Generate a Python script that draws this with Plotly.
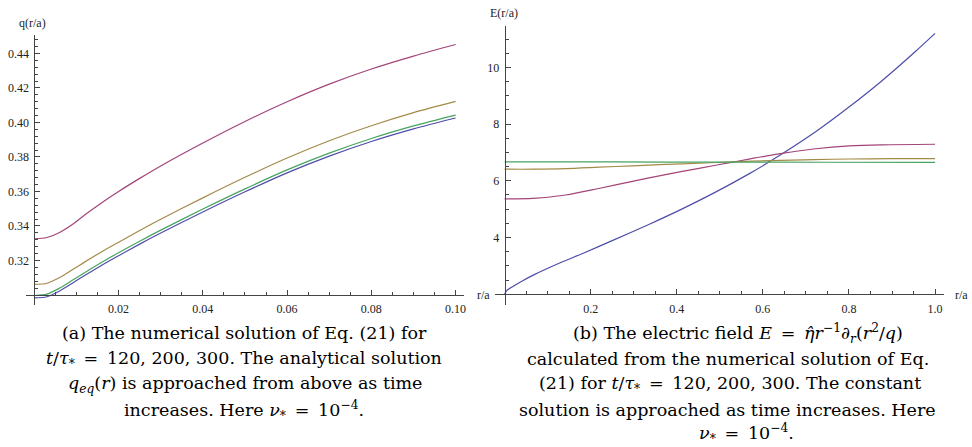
import plotly.graph_objects as go

W, H = 972, 447

# ---------------- data ----------------
# left panel: q(r/a) for r/a in [0, 0.1]
r_left = [0.0, 0.003, 0.006, 0.009, 0.012, 0.016, 0.02, 0.025, 0.03,
          0.04, 0.05, 0.06, 0.07, 0.08, 0.09, 0.1]
q_blue = [0.2983, 0.2990, 0.3023, 0.3068, 0.3114, 0.3173, 0.3228, 0.3295, 0.3359,
          0.3481, 0.3598, 0.3708, 0.3805, 0.3890, 0.3963, 0.4026]
q_magenta = [0.3325, 0.3333, 0.3362, 0.3408, 0.3465, 0.3535, 0.3600, 0.3676, 0.3748,
             0.3881, 0.4006, 0.4120, 0.4222, 0.4310, 0.4385, 0.4452]
q_olive = [0.3061, 0.3068, 0.3101, 0.3146, 0.3192, 0.3251, 0.3306, 0.3374, 0.3439,
           0.3563, 0.3682, 0.3794, 0.3894, 0.3981, 0.4057, 0.4122]
q_green = [0.2997, 0.3005, 0.3040, 0.3085, 0.3131, 0.3190, 0.3245, 0.3312, 0.3376,
           0.3498, 0.3615, 0.3725, 0.3822, 0.3907, 0.3980, 0.4043]

# right panel: E(r/a) for r/a in [0, 1]
r_E_blue = [0.0, 0.005, 0.02, 0.04, 0.07, 0.12, 0.18, 0.25, 0.335, 0.4128, 0.49,
            0.5677, 0.6141, 0.7226, 0.8, 0.8774, 0.955, 1.0]
E_blue = [2.0, 2.13, 2.28, 2.46, 2.70, 3.05, 3.43, 3.89, 4.46, 5.01, 5.60,
          6.245, 6.66, 7.73, 8.60, 9.54, 10.57, 11.2]
r_E_magenta = [0.0, 0.0655, 0.142, 0.219, 0.297, 0.374, 0.4516, 0.53, 0.645,
               0.7226, 0.8, 0.877, 1.0]
E_magenta = [5.36, 5.38, 5.50, 5.73, 5.98, 6.22, 6.44, 6.66, 6.97,
             7.13, 7.23, 7.27, 7.29]
r_E_olive = [0.0, 0.0655, 0.142, 0.219, 0.297, 0.374, 0.4516, 0.53, 0.614,
             0.72, 0.8, 0.9, 1.0]
E_olive = [6.41, 6.41, 6.43, 6.48, 6.53, 6.58, 6.62, 6.67, 6.71,
           6.75, 6.77, 6.78, 6.78]
r_E_green = [0.0, 0.25, 0.5, 0.75, 1.0]
E_green = [6.67, 6.665, 6.66, 6.655, 6.65]

# ticks
xl_major = [0.02, 0.04, 0.06, 0.08, 0.10]
xl_major_text = ["0.02", "0.04", "0.06", "0.08", "0.10"]
yl_major = [0.32, 0.34, 0.36, 0.38, 0.40, 0.42, 0.44]
yl_major_text = ["0.32", "0.34", "0.36", "0.38", "0.40", "0.42", "0.44"]
xr_major = [0.2, 0.4, 0.6, 0.8, 1.0]
xr_major_text = ["0.2", "0.4", "0.6", "0.8", "1.0"]
yr_major = [4, 6, 8, 10]
yr_major_text = ["4", "6", "8", "10"]

xl_minor = [round(0.005 * i, 4) for i in range(1, 21) if i % 4 != 0]
yl_minor = [round(0.300 + 0.004 * i, 4) for i in range(1, 38) if i % 5 != 0]
xr_minor = [round(0.05 * i, 3) for i in range(1, 21) if i % 4 != 0]
yr_minor = [2 + 0.5 * i for i in range(1, 19) if i % 4 != 0]

# ---------------- layout geometry (pixels) ----------------
XL_RANGE = [-0.002, 0.102]
YL_RANGE = [0.2942, 0.4507]
XR_RANGE = [-0.0223, 1.0209]
YR_RANGE = [1.62, 11.46]
left_px = (26, 465)
right_px = (496, 946)
bottom_px = 305
top_left_px = 35
top_right_px = 26

def fx(px):
    return px / W

def fy(py):
    return 1 - py / H

xl_dom = [fx(left_px[0]), fx(left_px[1])]
xr_dom = [fx(right_px[0]), fx(right_px[1])]
yl_dom = [fy(bottom_px), fy(top_left_px)]
yr_dom = [fy(bottom_px), fy(top_right_px)]

def frac(v, rng):
    return (v - rng[0]) / (rng[1] - rng[0])

pos_yl = xl_dom[0] + frac(0.0, XL_RANGE) * (xl_dom[1] - xl_dom[0])
pos_xl = yl_dom[0] + frac(0.30, YL_RANGE) * (yl_dom[1] - yl_dom[0])
pos_yr = xr_dom[0] + frac(0.0, XR_RANGE) * (xr_dom[1] - xr_dom[0])
pos_xr = yr_dom[0] + frac(2.0, YR_RANGE) * (yr_dom[1] - yr_dom[0])

BLUE = "#4d4dab"
MAGENTA = "#a34479"
OLIVE = "#a38a47"
GREEN = "#47a360"
AXC = "#444444"
TFONT = "Liberation Serif, Times New Roman, serif"
CFONT = "DejaVu Serif, serif"

fig = go.Figure()
for ys, c in [(q_blue, BLUE), (q_magenta, MAGENTA), (q_olive, OLIVE), (q_green, GREEN)]:
    fig.add_trace(go.Scatter(x=r_left, y=ys, mode="lines",
                             line=dict(color=c, width=1.2, shape="spline", smoothing=0.8),
                             xaxis="x", yaxis="y", showlegend=False, hoverinfo="skip"))
for xs, ys, c in [(r_E_blue, E_blue, BLUE), (r_E_magenta, E_magenta, MAGENTA),
                  (r_E_olive, E_olive, OLIVE), (r_E_green, E_green, GREEN)]:
    fig.add_trace(go.Scatter(x=xs, y=ys, mode="lines",
                             line=dict(color=c, width=1.2, shape="spline", smoothing=0.8),
                             xaxis="x2", yaxis="y2", showlegend=False, hoverinfo="skip"))

def axis(dom, rng, pos, tv, tt, minor_vals, standoff):
    return dict(domain=dom, range=rng, anchor="free", position=pos,
                showline=True, linecolor=AXC, linewidth=1,
                ticks="inside", ticklen=5, tickwidth=1, tickcolor=AXC,
                tickmode="array", tickvals=tv, ticktext=tt,
                showgrid=False, zeroline=False, ticklabelstandoff=standoff,
                tickfont=dict(family=TFONT, size=12, color="#222222"),
                minor=dict(tickmode="array", tickvals=minor_vals, ticks="inside",
                           ticklen=3, tickwidth=1, tickcolor=AXC, showgrid=False))

annotations = []
def label(text, x, y, xanchor="center", size=12):
    annotations.append(dict(text=text, x=fx(x), y=fy(y), xref="paper", yref="paper",
                            xanchor=xanchor, yanchor="middle", showarrow=False,
                            font=dict(family=TFONT, size=size, color="#222222")))

label("q(r/a)", 33, 23)
label("r/a", 476, 295, xanchor="left")
label("E(r/a)", 505, 13)
label("r/a", 955, 295, xanchor="left")

CAP = 17.5
EQ = "\u2002=\u2002"
cap_left = [
    ("(a) The numerical solution of Eq. (21) for", 245, 333),
    ("<i>t</i>/<i>τ</i><sub>*</sub>" + EQ + "120, 200, 300. The analytical solution", 245, 359),
    ("<i>q<sub>eq</sub></i>(<i>r</i>) is approached from above as time", 246, 384),
    ("increases. Here <i>ν</i><sub>*</sub>" + EQ + "10<sup>−4</sup>.", 245, 410),
]
cap_right = [
    ("(b) The electric field <i>E</i>" + EQ + "<i>η̂r</i><sup>−1</sup>∂<sub><i>r</i></sub>(<i>r</i><sup>2</sup>/<i>q</i>)", 740, 333),
    ("calculated from the numerical solution of Eq.", 729, 359),
    ("(21) for <i>t</i>/<i>τ</i><sub>*</sub>" + EQ + "120, 200, 300. The constant", 732, 384),
    ("solution is approached as time increases. Here", 729.5, 410),
    ("<i>ν</i><sub>*</sub>" + EQ + "10<sup>−4</sup>.", 748, 433),
]
for t, x, y in cap_left + cap_right:
    annotations.append(dict(text=t, x=fx(x), y=fy(y), xref="paper", yref="paper",
                            xanchor="center", yanchor="middle", showarrow=False,
                            font=dict(family=CFONT, size=CAP, color="black")))

fig.update_layout(
    width=W, height=H,
    margin=dict(l=0, r=0, t=0, b=0),
    paper_bgcolor="white", plot_bgcolor="white",
    xaxis=axis(xl_dom, XL_RANGE, pos_xl, xl_major, xl_major_text, xl_minor, 3),
    yaxis=axis(yl_dom, YL_RANGE, pos_yl, yl_major, yl_major_text, yl_minor, 3),
    xaxis2=axis(xr_dom, XR_RANGE, pos_xr, xr_major, xr_major_text, xr_minor, 3),
    yaxis2=axis(yr_dom, YR_RANGE, pos_yr, yr_major, yr_major_text, yr_minor, 3),
    annotations=annotations,
    showlegend=False,
)

fig.write_html("out.html")
